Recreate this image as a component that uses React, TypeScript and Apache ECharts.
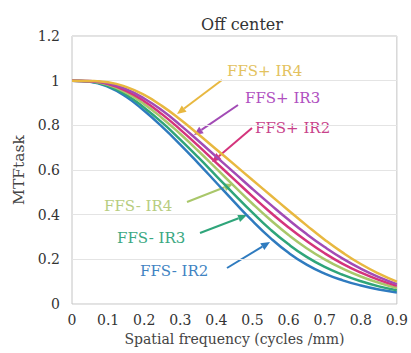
import React, { useEffect, useRef } from "react";
import * as echarts from "echarts";

const xValues = [0, 0.05, 0.1, 0.15, 0.2, 0.25, 0.3, 0.35, 0.4, 0.45, 0.5, 0.55, 0.6, 0.65, 0.7, 0.75, 0.8, 0.85, 0.9];

const ffsPlusIR4 = [1.0, 0.999, 0.993, 0.972, 0.936, 0.886, 0.826, 0.76, 0.692, 0.624, 0.555, 0.487, 0.419, 0.352, 0.288, 0.23, 0.179, 0.136, 0.1];
const ffsPlusIR3 = [1.0, 0.998, 0.988, 0.962, 0.92, 0.866, 0.801, 0.731, 0.659, 0.587, 0.515, 0.445, 0.377, 0.313, 0.255, 0.203, 0.158, 0.12, 0.089];
const ffsPlusIR2 = [1.0, 0.997, 0.985, 0.954, 0.908, 0.849, 0.781, 0.708, 0.632, 0.557, 0.482, 0.41, 0.343, 0.282, 0.227, 0.18, 0.141, 0.108, 0.081];
const ffsMinusIR4 = [1.0, 0.997, 0.981, 0.946, 0.895, 0.832, 0.761, 0.685, 0.606, 0.527, 0.449, 0.376, 0.309, 0.25, 0.2, 0.158, 0.123, 0.095, 0.072];
const ffsMinusIR3 = [1.0, 0.996, 0.976, 0.937, 0.879, 0.812, 0.736, 0.656, 0.573, 0.49, 0.409, 0.333, 0.267, 0.211, 0.166, 0.131, 0.102, 0.079, 0.062];
const ffsMinusIR2 = [1.0, 0.995, 0.972, 0.928, 0.865, 0.793, 0.714, 0.63, 0.543, 0.456, 0.372, 0.295, 0.229, 0.176, 0.136, 0.106, 0.083, 0.065, 0.052];

const seriesNames = ["FFS- IR2", "FFS- IR3", "FFS- IR4", "FFS+ IR2", "FFS+ IR3", "FFS+ IR4"];
const seriesValues = [ffsMinusIR2, ffsMinusIR3, ffsMinusIR4, ffsPlusIR2, ffsPlusIR3, ffsPlusIR4];
const seriesColors = ["#2f7bbf", "#2fa57a", "#a9c76a", "#d4347c", "#a24bb5", "#e8b840"];

const yTicks = ["0", "0.2", "0.4", "0.6", "0.8", "1", "1.2"];
const xTicks = ["0", "0.1", "0.2", "0.3", "0.4", "0.5", "0.6", "0.7", "0.8", "0.9"];

const FONT = '"DejaVu Serif", "Liberation Serif", serif';

function arrow(sx: number, sy: number, tx: number, ty: number, color: string) {
  const dx = tx - sx;
  const dy = ty - sy;
  const len = Math.hypot(dx, dy);
  const ux = dx / len;
  const uy = dy / len;
  const hl = 9;
  const hw = 4;
  const bx = tx - ux * hl;
  const by = ty - uy * hl;
  return [
    {
      type: "line",
      shape: { x1: sx, y1: sy, x2: bx, y2: by },
      style: { stroke: color, lineWidth: 2 },
      silent: true,
    },
    {
      type: "polygon",
      shape: {
        points: [
          [tx, ty],
          [bx - uy * hw, by + ux * hw],
          [bx + uy * hw, by - ux * hw],
        ],
      },
      style: { fill: color },
      silent: true,
    },
  ];
}

function label(x: number, y: number, text: string, color: string) {
  return {
    type: "text",
    x,
    y,
    silent: true,
    style: {
      text,
      fill: color,
      fontSize: 15,
      fontFamily: FONT,
      verticalAlign: "middle",
      align: "left",
    },
  };
}

export default function App() {
  const ref = useRef<HTMLDivElement>(null);
  useEffect(() => {
    if (!ref.current) return;
    const chart = echarts.init(ref.current, null, { renderer: "svg" });
    const fmt = (v: number) => String(+Number(v).toFixed(1));
    chart.setOption({
      animation: false,
      backgroundColor: "#ffffff",
      title: {
        text: "Off center",
        left: 237,
        top: 11,
        textAlign: "center",
        textStyle: { fontFamily: FONT, fontSize: 16, fontWeight: "normal", color: "#333" },
      },
      grid: {
        left: 72,
        right: 13,
        top: 36,
        bottom: 49,
        show: true,
        borderColor: "#c4c4c4",
        borderWidth: 1,
      },
      xAxis: {
        type: "value",
        min: 0,
        max: 0.9,
        interval: 0.1,
        name: "Spatial frequency (cycles /mm)",
        nameLocation: "middle",
        nameGap: 27,
        nameTextStyle: { fontFamily: FONT, fontSize: 14, color: "#444" },
        axisLine: { show: false },
        axisTick: { show: false },
        splitLine: { show: false },
        axisLabel: {
          fontFamily: FONT,
          fontSize: 14,
          color: "#333",
          margin: 9,
          formatter: (v: number) => xTicks[Math.round(v * 10)] ?? fmt(v),
        },
      },
      yAxis: {
        type: "value",
        min: 0,
        max: 1.2,
        interval: 0.2,
        name: "MTFtask",
        nameLocation: "middle",
        nameGap: 43,
        nameRotate: 90,
        nameTextStyle: { fontFamily: FONT, fontSize: 15.5, color: "#444" },
        axisLine: { show: false },
        axisTick: { show: false },
        splitLine: { show: true, lineStyle: { color: "#e4e4e4", width: 1 } },
        axisLabel: {
          fontFamily: FONT,
          fontSize: 14,
          color: "#333",
          margin: 12,
          formatter: (v: number) => yTicks[Math.round(v * 5)] ?? fmt(v),
        },
      },
      series: seriesNames.map((name, i) => ({
        name,
        type: "line",
        smooth: true,
        showSymbol: false,
        symbol: "none",
        lineStyle: { color: seriesColors[i], width: 2.5 },
        itemStyle: { color: seriesColors[i] },
        data: xValues.map((x, j) => [x, seriesValues[i][j]]),
      })),
      graphic: [
        label(227, 71, "FFS+ IR4", "#e3c25e"),
        label(245, 98, "FFS+ IR3", "#b04fc0"),
        label(255, 128, "FFS+ IR2", "#c8428a"),
        label(104, 206, "FFS- IR4", "#b7cd80"),
        label(117, 238, "FFS- IR3", "#3aa882"),
        label(140, 271, "FFS- IR2", "#3f83c2"),
        ...arrow(222, 80, 177, 114, "#e8b840"),
        ...arrow(238, 105, 194, 135, "#a24bb5"),
        ...arrow(252, 128, 212, 162, "#d4347c"),
        ...arrow(187, 202, 233, 184, "#a9c76a"),
        ...arrow(200, 233, 247, 215, "#2fa57a"),
        ...arrow(227, 268, 270, 242, "#2f7bbf"),
      ],
    });
    return () => chart.dispose();
  }, []);
  return (
    <div
      ref={ref}
      style={{ position: "absolute", left: 0, top: 0, width: 411, height: 353 }}
    />
  );
}
